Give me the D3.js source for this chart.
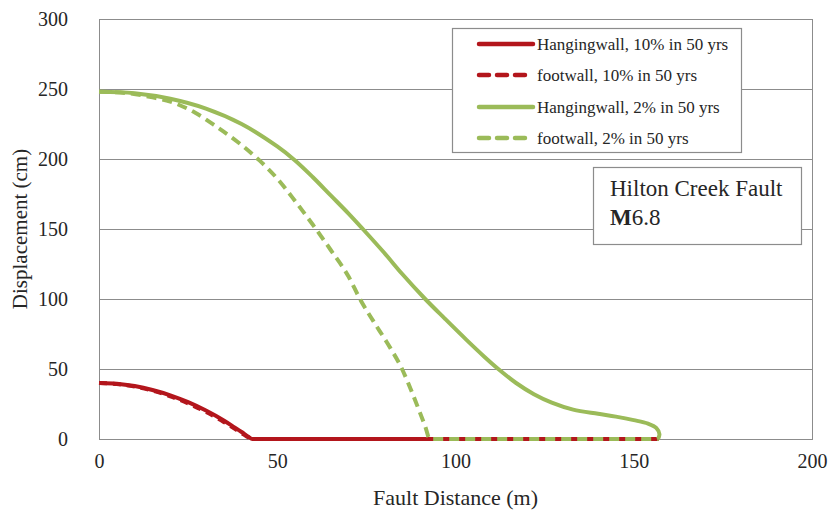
<!DOCTYPE html>
<html>
<head>
<meta charset="utf-8">
<script src="https://cdn.jsdelivr.net/npm/d3@7"></script>
<style>
  html, body { margin: 0; padding: 0; background: #fff; }
  svg { display: block; }
  text { font-family: "Liberation Serif", "Times New Roman", serif; fill: #262626; }
</style>
</head>
<body>
<svg id="chart" width="830" height="517"></svg>
<script>
// ---- data ----
const xTicks = [0, 50, 100, 150, 200];
const yTicks = [0, 50, 100, 150, 200, 250, 300];

const hw10X = [0, 5, 10, 15, 20, 25, 30, 35, 38, 40, 42, 43, 60, 100, 157];
const hw10Y = [40, 39.5, 37.8, 35, 31.2, 26.3, 20.3, 13.2, 8.3, 5, 1.5, 0, 0, 0, 0];

const fw10X = [0, 5, 10, 15, 20, 25, 30, 35, 38, 40, 42, 43, 60, 100, 157];
const fw10Y = [40, 39.3, 37.4, 34.5, 30.5, 25.4, 19.3, 12.2, 7.4, 4.2, 1, 0, 0, 0, 0];

const hw2X = [0, 10, 20, 30, 40, 50, 55, 60, 65, 70, 74, 80, 85, 91.5, 97, 103, 108, 112, 117, 122, 127, 133, 140, 145, 150, 154, 156.3, 157.2, 156.8];
const hw2Y = [248, 247, 243, 236, 225, 209, 199, 187, 174, 161, 150, 133, 118, 100, 86, 71, 59, 50, 40, 32, 26, 21, 18, 16, 13.5, 11, 8, 3.5, 0];

const fw2X = [0, 8, 15, 20, 27, 33, 39, 45, 50, 55, 60, 65, 70, 73.2, 77, 81, 85, 88, 90, 91.5, 92.8, 120, 157];
const fw2Y = [248, 247, 244, 241, 233, 223, 212, 199, 186, 170, 153, 135, 116, 100, 84, 68, 50, 32, 19, 9, 0, 0, 0];

const seriesNames = ["Hangingwall,  10% in 50 yrs", "footwall, 10% in 50 yrs", "Hangingwall, 2% in 50 yrs", "footwall, 2% in 50 yrs"];
const noteLine1 = "Hilton Creek Fault";
const noteLine2M = "M";
const noteLine2 = "6.8";
const xTitle = "Fault Distance (m)";
const yTitle = "Displacement (cm)";

// ---- styles ----
const RED = "#b3161c";
const GREEN = "#9bbb59";
const GRID = "#8c8c8c";

const series = [
  { name: seriesNames[0], xs: hw10X, ys: hw10Y, color: RED, dash: null, curve: d3.curveMonotoneX },
  { name: seriesNames[1], xs: fw10X, ys: fw10Y, color: RED, dash: "8,6", curve: d3.curveMonotoneX },
  { name: seriesNames[2], xs: hw2X, ys: hw2Y, color: GREEN, dash: null, curve: d3.curveCatmullRom.alpha(0.5) },
  { name: seriesNames[3], xs: fw2X, ys: fw2Y, color: GREEN, dash: "10,6", curve: d3.curveMonotoneX }
];

const svg = d3.select("#chart");
const L = 99, R = 812, T = 19, B = 439;

const x = d3.scaleLinear().domain([0, 200]).range([L, R]);
const y = d3.scaleLinear().domain([0, 300]).range([B, T]);

// gridlines
svg.append("g").selectAll("line").data(yTicks).join("line")
  .attr("x1", L).attr("x2", R)
  .attr("y1", d => y(d) + 0.5).attr("y2", d => y(d) + 0.5)
  .attr("stroke", GRID).attr("stroke-width", 1);

// plot border
svg.append("rect").attr("x", L + 0.5).attr("y", T + 0.5)
  .attr("width", R - L).attr("height", B - T)
  .attr("fill", "none").attr("stroke", GRID).attr("stroke-width", 1);

// axes (labels only)
const yAxis = d3.axisLeft(y).tickValues(yTicks).tickSize(0).tickPadding(31).tickFormat(d3.format("d"));
const gy = svg.append("g").attr("transform", `translate(${L},0)`).call(yAxis);
gy.select(".domain").remove();
gy.selectAll("text").style("font-size", "20px").style("font-family", "Liberation Serif").attr("fill", "#262626");

const xAxis = d3.axisBottom(x).tickValues(xTicks).tickSize(0).tickPadding(15).tickFormat(d3.format("d"));
const gx = svg.append("g").attr("transform", `translate(0,${B})`).call(xAxis);
gx.select(".domain").remove();
gx.selectAll("text").style("font-size", "20px").style("font-family", "Liberation Serif").attr("fill", "#262626");

// axis titles
svg.append("text").attr("x", (L + R) / 2).attr("y", 505)
  .attr("text-anchor", "middle").style("font-size", "22px").text(xTitle);
svg.append("text").attr("transform", `translate(27,${(T + B) / 2}) rotate(-90)`)
  .attr("text-anchor", "middle").style("font-size", "21px").text(yTitle);

// lines
svg.append("g").selectAll("path").data(series).join("path")
  .attr("d", s => d3.line().curve(s.curve)(s.xs.map((v, i) => [x(v), y(s.ys[i])])))
  .attr("fill", "none")
  .attr("stroke", s => s.color)
  .attr("stroke-width", 4)
  .attr("stroke-linejoin", "round")
  .attr("stroke-dasharray", s => s.dash);

// legend
const lg = svg.append("g");
lg.append("rect").attr("x", 452.5).attr("y", 28.5).attr("width", 289).attr("height", 124)
  .attr("fill", "#fff").attr("stroke", "#8c8c8c").attr("stroke-width", 1.2);
const rowY = [44, 75, 107, 138];
series.forEach((s, i) => {
  lg.append("line").attr("x1", 479).attr("x2", 533)
    .attr("y1", rowY[i]).attr("y2", rowY[i])
    .attr("stroke", s.color).attr("stroke-width", 4.5)
    .attr("stroke-linecap", "round")
    .attr("stroke-dasharray", s.dash ? "10,8" : null);
  lg.append("text").attr("x", 537).attr("y", rowY[i] + 6)
    .style("font-size", "17px").text(s.name);
});

// note box
const nb = svg.append("g");
nb.append("rect").attr("x", 593.5).attr("y", 167.5).attr("width", 208).attr("height", 77)
  .attr("fill", "#fff").attr("stroke", "#8c8c8c").attr("stroke-width", 1.2);
nb.append("text").attr("x", 610).attr("y", 196).style("font-size", "23px").text(noteLine1);
const t2 = nb.append("text").attr("x", 610).attr("y", 225).style("font-size", "23px");
t2.append("tspan").style("font-weight", "bold").text(noteLine2M);
t2.append("tspan").text(noteLine2);
</script>
</body>
</html>
